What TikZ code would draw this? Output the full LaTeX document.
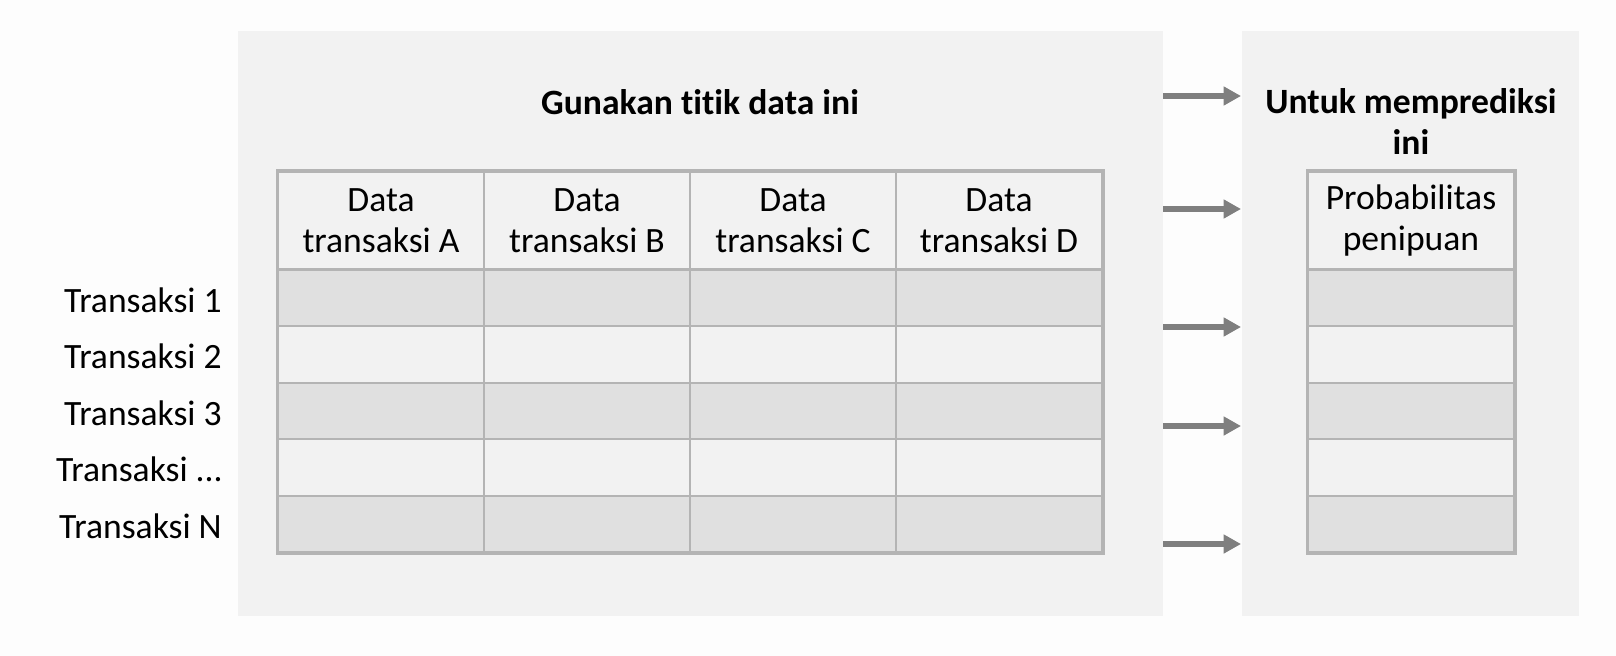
\documentclass[tikz,border=0pt]{standalone}
\usepackage{fontspec}
\setmainfont{Carlito}[Ligatures=NoCommon]
\usetikzlibrary{arrows.meta}
\definecolor{bgc}{HTML}{FDFDFD}
\definecolor{panelc}{HTML}{F2F2F2}
\definecolor{darkrow}{HTML}{E0E0E0}
\definecolor{linec}{HTML}{B4B4B4}
\definecolor{arrowc}{HTML}{7F7F7F}
\tikzset{
  panel/.style={fill=panelc, draw=none, inner sep=0pt},
  cell/.style={draw=linec, line width=1.5pt, inner sep=0pt, minimum width=154.5pt, minimum height=42.3pt},
  headcell/.style={cell, fill=panelc, minimum height=73.5pt, align=center, font=\fontsize{26.7}{30.75}\selectfont},
  lbl/.style={font=\fontsize{26.7}{30.75}\selectfont, inner sep=0pt},
  ttl/.style={font=\fontsize{26.7}{30.75}\selectfont\bfseries, align=center, inner sep=0pt},
  arr/.style={draw=arrowc, line width=4.5pt, -{Triangle[length=13pt,width=13.5pt]}}
}
\begin{document}
\begin{tikzpicture}[x=0.75pt,y=-0.75pt]
\useasboundingbox (0,0) rectangle (1616,656);
\fill[bgc] (0,0) rectangle (1616,656);
% panels
\node[panel, minimum width=693.75pt, minimum height=438.75pt] (lp) at (700.5,323.5) {};
\node[panel, minimum width=252.75pt, minimum height=438.75pt] (rp) at (1410.5,323.5) {};
% titles
\node[ttl] (t1) at (700,102) {Gunakan titik data ini};
\node[ttl] (t2) at (1411,122) {Untuk memprediksi\\ini};
% header cells
\foreach \c [count=\i] in {A,B,C,D} {
  \node[headcell] (h\i) at ({278+206*(\i-0.5)},221) {Data\\transaksi \c};
}
\node[headcell] (hp) at (1411,221) {Probabilitas\\penipuan};
% body rows
\foreach \r in {1,...,5} {
  \pgfmathsetmacro{\yc}{270+56.4*(\r-0.5)}
  \pgfmathtruncatemacro{\odd}{mod(\r,2)}
  \ifnum\odd=1 \def\fc{darkrow}\else\def\fc{panelc}\fi
  \foreach \i in {1,...,4} {
    \node[cell, fill=\fc] (c\r-\i) at ({278+206*(\i-0.5)},\yc) {};
  }
  \node[cell, fill=\fc] (p\r) at (1411,\yc) {};
}
% thicker outlines
\draw[linec, line width=2.25pt] (h1.north west) rectangle (c5-4.south east);
\draw[linec, line width=2.25pt] (c1-1.north west) -- (c1-4.north east);
\draw[linec, line width=2.25pt] (hp.north west) rectangle (p5.south east);
\draw[linec, line width=2.25pt] (p1.north west) -- (p1.north east);
% row labels
\node[lbl, anchor=east] (l1) at (222,{272+56.4*0.5}) {Transaksi 1};
\node[lbl, anchor=east] (l2) at (222,{272+56.4*1.5}) {Transaksi 2};
\node[lbl, anchor=east] (l3) at (222,{272+56.4*2.5}) {Transaksi 3};
\node[lbl, anchor=east] (l4) at (223,{272+56.4*3.5}) {Transaksi ...};
\node[lbl, anchor=east] (l5) at (222,{272+56.4*4.5}) {Transaksi N};
% arrows
\foreach \k/\yy in {1/96,2/209,3/327,4/426,5/544} {
  \coordinate (as\k) at (1163,\yy);
  \coordinate (ae\k) at (1241,\yy);
  \draw[arr] (as\k) -- (ae\k);
}
\end{tikzpicture}
\end{document}
